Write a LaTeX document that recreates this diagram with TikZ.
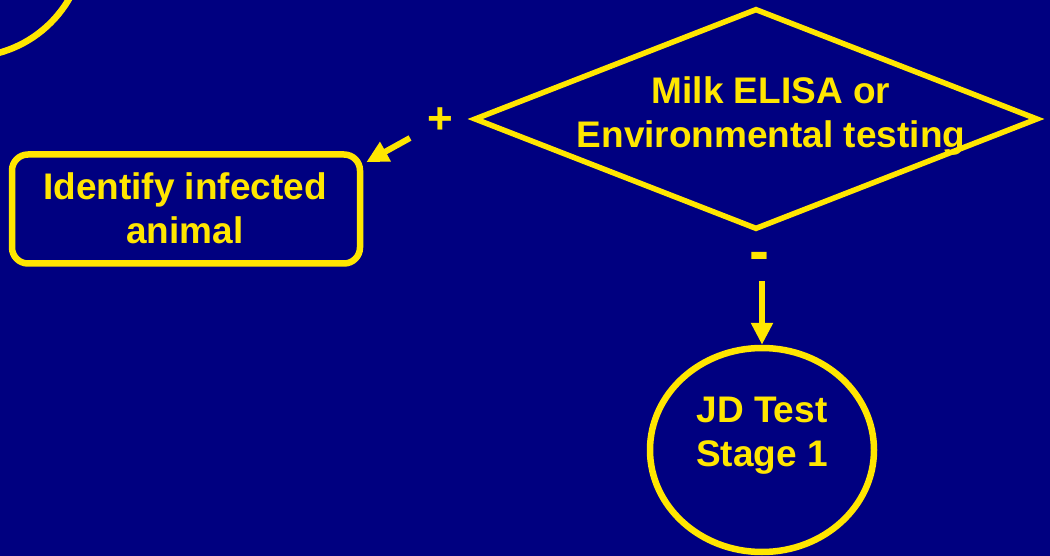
\documentclass[tikz,border=0pt]{standalone}
\usepackage{fontspec}
\setmainfont{Liberation Sans}
\usetikzlibrary{arrows.meta, shapes.geometric}
\definecolor{navy}{RGB}{0,0,128}
\definecolor{flowyellow}{RGB}{255,230,0}
\tikzset{
  flowline/.style={draw=flowyellow, line width=6.5pt},
  flowarrow/.style={flowyellow, line width=6pt, -{Triangle[length=22pt, width=21pt]}},
  flowtext/.style={text=flowyellow, align=center, inner sep=0pt, font=\fontsize{37}{44}\selectfont\bfseries},
  signtext/.style={text=flowyellow, inner sep=0pt, font=\fontsize{44}{44}\selectfont\bfseries},
}
\begin{document}
\begin{tikzpicture}[x=1pt, y=-1pt]
        \fill[navy] (0,0) rectangle (1050,556);
        \useasboundingbox (0,0) rectangle (1050,556);
        % stage circle from the previous step, mostly off the page
        \node[flowline, circle, minimum size=234pt, inner sep=0pt] (prevstage) at (-32,-60) {};
        % decision
        \node[flowline, diamond, minimum width=564pt, minimum height=221pt, inner sep=0pt, line width=5.5pt] (test) at (756,119) {};
        \node[flowtext] (testtxt) at (771,116) {Milk ELISA or\\Environmental testing};
        \node[signtext] (plus) at (440,121) {+};
        \node[signtext, font=\fontsize{60}{60}\selectfont\bfseries] (minus) at (759,262) {-};
        % outcomes
        \node[flowline, rounded corners=16pt, minimum width=348pt, minimum height=109pt, inner sep=0pt] (idbox) at (186,209) {};
        \node[flowtext] (idtxt) at (185,208) {Identify infected\\animal};
        \node[flowline, ellipse, minimum width=224pt, minimum height=204pt, inner sep=0pt] (jd) at (762,450) {};
        \node[flowtext] (jdtxt) at (762,436) {JD Test\\Stage 1};
        \coordinate (plustail) at (410,138);
        \coordinate (minustail) at (762,281);
        \draw[flowarrow] (plustail) -- ([shift={(3,11)}]idbox.north east);
        \draw[flowarrow] (minustail) -- (jd.north);
    \end{tikzpicture}
\end{document}
